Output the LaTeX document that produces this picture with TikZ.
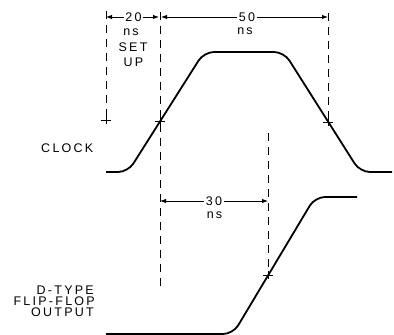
\documentclass[tikz,border=0pt]{standalone}
\usepackage{fontspec}
\newfontfamily\lblfont[LetterSpace=18]{Liberation Sans}
\usetikzlibrary{arrows.meta}

\begin{document}
\begin{tikzpicture}[x=1pt,y=-1pt,>={Latex[length=6pt,width=4.5pt]},
  wave/.style={line width=1.8pt,rounded corners=10pt},
  guide/.style={line width=1pt,dash pattern=on 8pt off 6pt},
  dim/.style={->,line width=0.9pt},
  lbl/.style={font=\lblfont\fontsize{12.5}{10.5}\selectfont,inner sep=1.5pt}]

\useasboundingbox (0,0) rectangle (394,335);

% guide lines and crossing marks
\coordinate (g1t) at (106,11);  \coordinate (g1b) at (106,120);
\coordinate (g2t) at (160,12);  \coordinate (g2b) at (160,290);
\coordinate (g3t) at (328,13);  \coordinate (g3b) at (328,122);
\coordinate (g4t) at (268,133); \coordinate (g4b) at (268,275);
\coordinate (c1) at (160,121);
\draw[guide] (g1t) -- (g1b);
\draw[guide] (g2t) -- (g2b);
\draw[guide] (g3t) -- (g3b);
\draw[guide] (g4t) -- (g4b);
\foreach \c in {g1b,c1,g3b,g4b}
  \draw[line width=0.9pt] (\c) +(-5,0) -- +(5,0) (\c) +(0,-4) -- +(0,4);

% waveforms
\draw[wave] (106,172) -- (128,172) -- (204,52) -- (284,52) -- (360,172) -- (392,172);
\draw[wave] (106,334) -- (233,334) -- (315,197) -- (357,197);

% timing
\node[lbl] (t20) at (133.5,17) {20};
\draw[dim] (t20) -- (g1t |- t20);
\draw[dim] (t20) -- ([xshift=-1pt]g2t |- t20);
\node[lbl] (ns20) at (131,32.5) {ns};
\node[lbl] (set) at (133,47) {SET};
\node[lbl] (up) at (133.5,62) {UP};

\node[lbl] (t50) at (247,17) {50};
\draw[dim] (t50) -- ([xshift=1pt]g2t |- t50);
\draw[dim] (t50) -- (g3t |- t50);
\node[lbl] (ns50) at (245,31.5) {ns};

\node[lbl] (t30) at (214,201) {30};
\draw[dim] (t30) -- (g2t |- t30);
\draw[dim] (t30) -- (g4t |- t30);
\node[lbl] (ns30) at (214.5,215.5) {ns};

% signal names
\node[lbl,anchor=east] (clk) at (95,148) {CLOCK};
\node[lbl,anchor=east,inner sep=0pt] (dtype) at (94,290.5) {D-TYPE};
\node[lbl,anchor=east,inner sep=0pt] (flipflop) at (95,301.5) {FLIP-FLOP};
\node[lbl,anchor=east,inner sep=0pt] (output) at (94,312.5) {OUTPUT};

\end{tikzpicture}
\end{document}
